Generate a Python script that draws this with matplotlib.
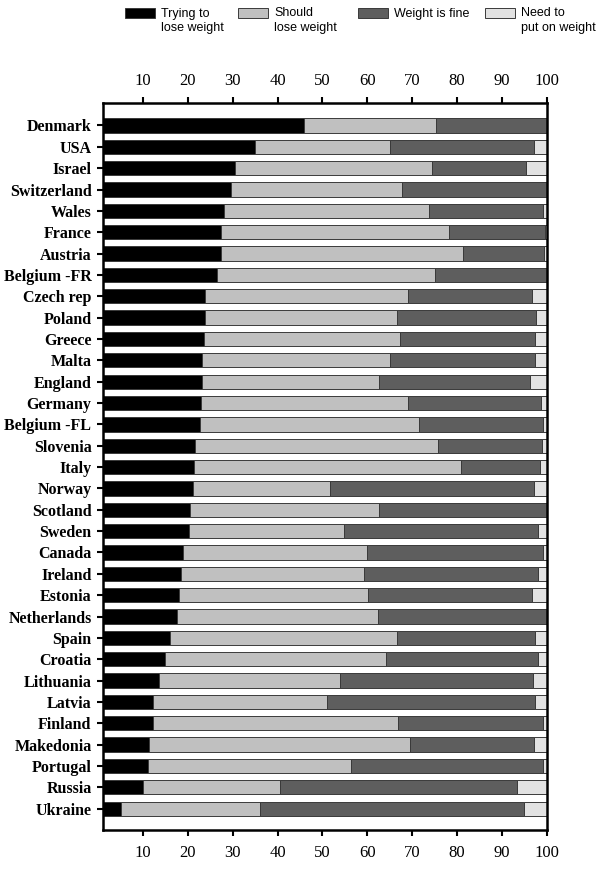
import matplotlib
matplotlib.use("Agg")
import matplotlib.pyplot as plt
from matplotlib.patches import Rectangle
import numpy as np

countries = ["Denmark", "USA", "Israel", "Switzerland", "Wales", "France", "Austria",
             "Belgium -FR", "Czech rep", "Poland", "Greece", "Malta", "England", "Germany",
             "Belgium -FL", "Slovenia", "Italy", "Norway", "Scotland", "Sweden", "Canada",
             "Ireland", "Estonia", "Netherlands", "Spain", "Croatia", "Lithuania", "Latvia",
             "Finland", "Makedonia", "Portugal", "Russia", "Ukraine"]

trying_to_lose = [45.8, 34.9, 30.6, 29.6, 28.0, 27.5, 27.4, 26.4, 23.8, 23.8, 23.6, 23.2,
                  23.1, 23.0, 22.7, 21.6, 21.4, 21.1, 20.4, 20.3, 19.0, 18.5, 18.0, 17.6,
                  16.1, 14.9, 13.6, 12.3, 12.2, 11.4, 11.2, 9.9, 5.0]
should_lose = [29.5, 30.1, 43.8, 38.2, 45.8, 50.7, 54.0, 48.7, 45.3, 42.9, 43.7, 41.9,
               39.5, 46.1, 48.9, 54.1, 59.5, 30.5, 42.2, 34.6, 41.0, 40.7, 42.1, 44.8,
               50.5, 49.3, 40.4, 38.8, 54.7, 58.1, 45.2, 30.6, 31.2]
weight_fine = [24.7, 32.2, 21.0, 32.2, 25.4, 21.5, 18.0, 24.9, 27.7, 30.9, 30.2, 32.4,
               33.7, 29.6, 27.6, 23.3, 17.6, 45.5, 37.4, 43.1, 39.2, 38.8, 36.7, 37.6,
               30.8, 33.8, 42.9, 46.4, 32.4, 27.7, 42.9, 53.0, 58.7]
need_gain = [0.0, 2.8, 4.6, 0.0, 0.8, 0.3, 0.6, 0.0, 3.2, 2.4, 2.5, 2.5,
             3.7, 1.3, 0.8, 1.0, 1.5, 2.9, 0.0, 2.0, 0.8, 2.0, 3.2, 0.0,
             2.6, 2.0, 3.1, 2.5, 0.7, 2.8, 0.7, 6.5, 5.1]

series_labels = ["Trying to\nlose weight", "Should\nlose weight", "Weight is fine",
                 "Need to\nput on weight"]
series_colors = ["#000000", "#c0c0c0", "#5e5e5e", "#e2e2e2"]
x_ticks = [10, 20, 30, 40, 50, 60, 70, 80, 90, 100]

fig = plt.figure(figsize=(6, 8.75), dpi=100)
ax = fig.add_axes([0.171, 0.0514, 0.740, 0.8306])

y = np.arange(len(countries))
series = [trying_to_lose, should_lose, weight_fine, need_gain]
left = np.zeros(len(countries))
for vals, col in zip(series, series_colors):
    vals = np.array(vals)
    ax.barh(y, vals, left=left, height=0.67, color=col, edgecolor="#3a3a3a",
            linewidth=0.7)
    left = left + vals

ax.set_xlim(1, 100)
ax.set_ylim(33.0, -1.04)
ax.set_yticks(y)
ax.set_yticklabels(countries, fontfamily="Liberation Serif", fontweight="bold",
                   fontsize=11.5)
ax.set_xticks(x_ticks)
ax.set_xticklabels([str(t) for t in x_ticks], fontfamily="Liberation Serif", fontsize=12)
ax.tick_params(axis="x", top=True, labeltop=True, bottom=True, labelbottom=True,
               direction="out", length=4, width=1.5, pad=6.5)
ax.tick_params(axis="y", direction="out", length=4, width=1.5, pad=4)
for s in ax.spines.values():
    s.set_linewidth(1.8)

# legend drawn in figure coordinates
W, H = 600.0, 875.0
leg_x = [125, 238, 358, 485]
for lx, lab, col in zip(leg_x, series_labels, series_colors):
    fig.add_artist(Rectangle((lx / W, 1 - 18 / H), 30 / W, 10 / H,
                             transform=fig.transFigure, facecolor=col,
                             edgecolor="#3a3a3a", linewidth=0.7))
    fig.text((lx + 36) / W, 1 - 7.5 / H, lab, ha="left", va="top",
             fontfamily="Liberation Sans", fontsize=9, linespacing=1.25)

fig.savefig("out.png", dpi=100)
